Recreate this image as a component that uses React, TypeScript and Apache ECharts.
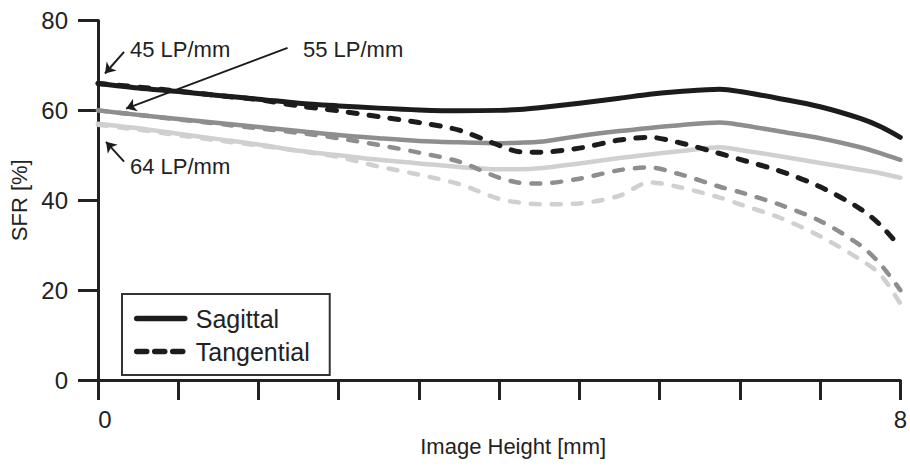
import React, { useEffect, useRef } from "react";
import * as echarts from "echarts";

const xValues = [0, 0.4, 0.8, 1.2, 1.6, 2.0, 2.4, 2.8, 3.2, 3.6, 4.0, 4.2, 4.4, 4.8, 5.2, 5.5, 5.8, 6.2, 6.4, 6.8, 7.2, 7.6, 7.8, 8.0];

const sag45 = [66.0, 65.0, 64.2, 63.3, 62.5, 61.6, 61.0, 60.5, 60.1, 59.9, 60.0, 60.2, 60.6, 61.6, 62.7, 63.6, 64.2, 64.7, 64.2, 62.6, 60.8, 58.2, 56.4, 54.0];
const tan45 = [66.0, 65.2, 64.3, 63.3, 62.4, 61.0, 59.9, 58.6, 57.3, 55.6, 52.2, 50.8, 50.7, 51.6, 53.4, 54.0, 52.8, 50.4, 49.1, 46.5, 43.0, 38.1, 34.5, 29.5];
const sag55 = [60.0, 59.0, 58.1, 57.2, 56.3, 55.4, 54.5, 53.8, 53.2, 52.9, 52.7, 52.8, 53.0, 54.3, 55.4, 56.1, 56.7, 57.3, 56.8, 55.3, 53.8, 51.8, 50.5, 49.0];
const tan55 = [60.0, 59.0, 58.0, 57.0, 56.0, 55.0, 53.8, 52.3, 50.6, 48.6, 45.0, 43.9, 43.7, 44.8, 46.7, 47.3, 45.8, 43.0, 41.8, 39.0, 35.4, 30.0, 25.8, 20.0];
const sag64 = [57.0, 56.0, 54.8, 53.6, 52.4, 51.0, 50.0, 49.0, 48.2, 47.4, 46.9, 46.9, 47.1, 48.2, 49.4, 50.2, 50.9, 51.8, 51.2, 49.8, 48.3, 46.8, 46.0, 45.0];
const tan64 = [56.8, 55.7, 54.5, 53.3, 52.2, 51.0, 49.6, 47.5, 45.7, 43.6, 40.3, 39.5, 39.1, 39.3, 41.0, 44.0, 42.9, 40.6, 39.1, 36.1, 32.0, 26.8, 23.5, 17.0];

const legendNames = ["Sagittal", "Tangential"];
const freqLabels = ["45 LP/mm", "55 LP/mm", "64 LP/mm"];
// arrow annotations in data coordinates: [from, to]
const arrows45 = [[0.26, 73.0], [0.07, 68.2]];
const arrows55 = [[1.89, 73.9], [0.28, 60.4]];
const arrows64 = [[0.26, 48.6], [0.08, 53.0]];

const BLACK = "#1c1c1c";
const GRAY = "#8e8e8e";
const LIGHT = "#d0d0d0";
const FONT = "Liberation Sans, Arial, sans-serif";

function pairs(ys: number[]) {
  return xValues.map((x, i) => [x, ys[i]]);
}

function mkSeries(name: string, ys: number[], color: string, dashed: boolean, z: number, width: number) {
  return {
    name,
    type: "line",
    data: pairs(ys),
    smooth: 0.3,
    symbol: "none",
    z,
    lineStyle: {
      color,
      width,
      type: dashed ? [9, 12] : "solid",
      cap: "round",
      join: "round",
    },
    itemStyle: { color },
  };
}

export default function App() {
  const ref = useRef<HTMLDivElement>(null);
  useEffect(() => {
    if (!ref.current) return;
    const chart = echarts.init(ref.current, null, { renderer: "svg" });
    const arrowLine = (a: number[][]) => [
      { coord: a[0], symbol: "none" },
      { coord: a[1], symbol: "arrow" },
    ];
    const option: any = {
      animation: false,
      backgroundColor: "#ffffff",
      textStyle: { fontFamily: FONT },
      grid: { left: 98, right: 7, top: 20.5, bottom: 90, containLabel: false },
      xAxis: {
        type: "value",
        min: 0,
        max: 8,
        interval: 0.8,
        name: "Image Height [mm]",
        nameLocation: "middle",
        nameGap: 49,
        nameTextStyle: { fontSize: 22, color: "#222", fontFamily: FONT, padding: [0, 0, 0, 28] },
        splitLine: { show: false },
        axisLine: { show: true, lineStyle: { color: "#222", width: 3 } },
        axisTick: { show: true, inside: false, length: 20, lineStyle: { color: "#222", width: 3 } },
        axisLabel: {
          show: true,
          margin: 27,
          fontSize: 24,
          color: "#222",
          fontFamily: FONT,
          showMinLabel: true,
          showMaxLabel: true,
          formatter: (v: number) => {
            if (Math.abs(v) < 1e-6) return "{l|0}";
            if (Math.abs(v - 8) < 1e-6) return "8";
            return "";
          },
          rich: { l: { fontSize: 24, color: "#222", fontFamily: FONT, padding: [0, 0, 0, 14] } },
        },
      },
      yAxis: {
        type: "value",
        min: 0,
        max: 80,
        interval: 20,
        name: "SFR [%]",
        nameLocation: "middle",
        nameGap: 68,
        nameRotate: 90,
        nameTextStyle: { fontSize: 22, color: "#222", fontFamily: FONT },
        splitLine: { show: false },
        axisLine: { show: true, lineStyle: { color: "#222", width: 3 } },
        axisTick: { show: true, inside: false, length: 20, lineStyle: { color: "#222", width: 3 } },
        axisLabel: { margin: 30, fontSize: 24, color: "#222", fontFamily: FONT },
      },
      legend: {
        show: true,
        data: [
          { name: legendNames[0], lineStyle: { color: BLACK, width: 5.5, type: "solid", cap: "round" } },
          { name: legendNames[1], lineStyle: { color: BLACK, width: 5.5, type: [10, 8], cap: "round" } },
        ],
        orient: "vertical",
        left: 122,
        top: 294,
        padding: [12, 20, 11, 12],
        itemGap: 8,
        itemWidth: 48,
        itemHeight: 14,
        borderColor: "#333",
        borderWidth: 2,
        backgroundColor: "#fff",
        selectedMode: false,
        itemStyle: { opacity: 0, borderWidth: 0 },
        lineStyle: { width: 5.5, cap: "round" },
        textStyle: { fontSize: 25, color: "#222", fontFamily: FONT, padding: [0, 0, 0, 6] },
      },
      series: [
        mkSeries("64 LP/mm Sagittal", sag64, LIGHT, false, 1, 4.5),
        mkSeries("64 LP/mm Tangential", tan64, LIGHT, true, 1, 4.5),
        mkSeries("55 LP/mm Sagittal", sag55, GRAY, false, 2, 4.5),
        mkSeries("55 LP/mm Tangential", tan55, GRAY, true, 2, 4.5),
        mkSeries("45 LP/mm Tangential", tan45, BLACK, true, 3, 5),
        {
          ...mkSeries("45 LP/mm Sagittal", sag45, BLACK, false, 3, 5),
          markLine: {
            silent: true,
            symbolSize: 10,
            label: { show: false },
            lineStyle: { color: "#1c1c1c", width: 2, type: "solid" },
            data: [arrowLine(arrows45), arrowLine(arrows55), arrowLine(arrows64)],
          },
        },
        {
          name: "Sagittal",
          type: "line",
          data: [],
          symbol: "none",
          lineStyle: { color: BLACK, width: 5.5, type: "solid", cap: "round" },
          itemStyle: { color: BLACK },
        },
        {
          name: "Tangential",
          type: "line",
          data: [],
          symbol: "none",
          lineStyle: { color: BLACK, width: 5.5, type: [10, 8], cap: "round" },
          itemStyle: { color: BLACK },
        },
      ],
      graphic: [
        { type: "text", left: 130, top: 38, style: { text: freqLabels[0], fontSize: 22, fill: "#222", fontFamily: FONT } },
        { type: "text", left: 303, top: 38, style: { text: freqLabels[1], fontSize: 22, fill: "#222", fontFamily: FONT } },
        { type: "text", left: 130, top: 155, style: { text: freqLabels[2], fontSize: 22, fill: "#222", fontFamily: FONT } },
      ],
    };
    chart.setOption(option);
    return () => chart.dispose();
  }, []);
  return (
    <div
      ref={ref}
      style={{ position: "fixed", left: 0, top: 0, width: 910, height: 470, background: "#fff" }}
    />
  );
}
